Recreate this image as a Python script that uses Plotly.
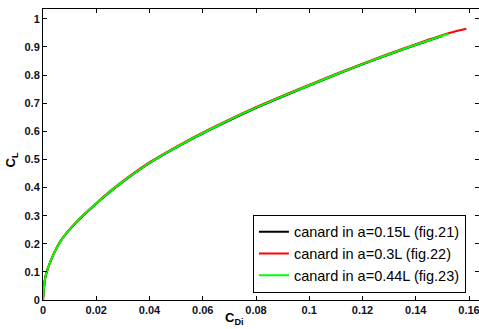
import plotly.graph_objects as go

# CDi (x) and CL (y) for each configuration
cdi_015 = [0, 0.0003, 0.0009, 0.003, 0.0068, 0.0125, 0.0194, 0.0231, 0.030, 0.0404,
           0.0529, 0.065, 0.0781, 0.0957, 0.110, 0.122, 0.137, 0.150]
cl_015 = [0, 0.035, 0.083, 0.142, 0.212, 0.276, 0.337, 0.368, 0.420, 0.489,
          0.557, 0.616, 0.675, 0.746, 0.801, 0.845, 0.897, 0.939]

cdi_03 = [0, 0.0003, 0.0009, 0.003, 0.0068, 0.0125, 0.0194, 0.0231, 0.030, 0.0404,
          0.0529, 0.065, 0.0781, 0.0957, 0.110, 0.122, 0.137, 0.1523, 0.159]
cl_03 = [0, 0.035, 0.083, 0.142, 0.213, 0.278, 0.339, 0.371, 0.423, 0.492,
         0.560, 0.619, 0.678, 0.749, 0.804, 0.848, 0.900, 0.949, 0.965]

cdi_044 = [0, 0.0003, 0.0009, 0.003, 0.0068, 0.0125, 0.0194, 0.0231, 0.030, 0.0404,
           0.0529, 0.065, 0.0781, 0.0957, 0.110, 0.122, 0.137, 0.1523]
cl_044 = [0, 0.035, 0.083, 0.142, 0.212, 0.277, 0.338, 0.369, 0.421, 0.490,
          0.558, 0.617, 0.676, 0.747, 0.802, 0.846, 0.898, 0.947]

names = ["canard in a=0.15L (fig.21)", "canard in a=0.3L (fig.22)", "canard in a=0.44L (fig.23)"]
colors = ["#000000", "#ff0000", "#00ff00"]

x_ticks = [0, 0.02, 0.04, 0.06, 0.08, 0.1, 0.12, 0.14, 0.16]
y_ticks = [0, 0.1, 0.2, 0.3, 0.4, 0.5, 0.6, 0.7, 0.8, 0.9, 1]

fig = go.Figure()
for xs, ys, nm, c in zip([cdi_015, cdi_03, cdi_044], [cl_015, cl_03, cl_044], names, colors):
    fig.add_trace(go.Scatter(x=xs, y=ys, mode="lines", name=nm,
                             line=dict(color=c, width=2, shape="spline", smoothing=1.0)))

tickfont = dict(family="Liberation Sans, Arial, sans-serif", size=11, color="#111122",
                weight="bold")
axis_common = dict(showline=True, linecolor="black", linewidth=1, mirror="ticks",
                   ticks="inside", ticklen=4, tickcolor="black", showgrid=False,
                   zeroline=False, tickfont=tickfont, automargin=False,
                   ticklabeloverflow="allow")

fig.update_layout(
    width=479, height=329,
    margin=dict(l=43, r=0, t=9, b=29),
    paper_bgcolor="white", plot_bgcolor="white",
    font=dict(family="Liberation Sans, Arial, sans-serif"),
    xaxis=dict(range=[0, 0.16375], tickvals=x_ticks,
               ticktext=["0"] + [f"{v:g}" for v in x_ticks[1:]], **axis_common),
    yaxis=dict(range=[0, 1.035], tickvals=y_ticks,
               ticktext=[f"{v:g}" for v in y_ticks], **axis_common),
    legend=dict(x=0.970, y=0.025, xanchor="right", yanchor="bottom",
                bordercolor="black", borderwidth=1, bgcolor="white",
                font=dict(family="Liberation Sans, Arial, sans-serif", size=14.5, color="black"),
                tracegroupgap=0, itemwidth=30),
    showlegend=True,
)

fig.add_annotation(text="<b>C<sub>Di</sub></b>", xref="paper", yref="paper",
                   x=(234 - 43) / 436, y=-0.098, xanchor="center", yanchor="bottom",
                   showarrow=False, font=dict(family="Liberation Sans, Arial", size=13, color="black"))
fig.add_annotation(text="<b>C<sub>L</sub></b>", xref="paper", yref="paper",
                   x=-0.07, y=(300 - 160) / 291, xanchor="center", yanchor="middle",
                   textangle=-90, showarrow=False,
                   font=dict(family="Liberation Sans, Arial", size=13, color="black"))

fig.write_html("out.html", config={"displayModeBar": False},
               post_script="document.body.style.margin='0';document.body.style.overflow='hidden';")
